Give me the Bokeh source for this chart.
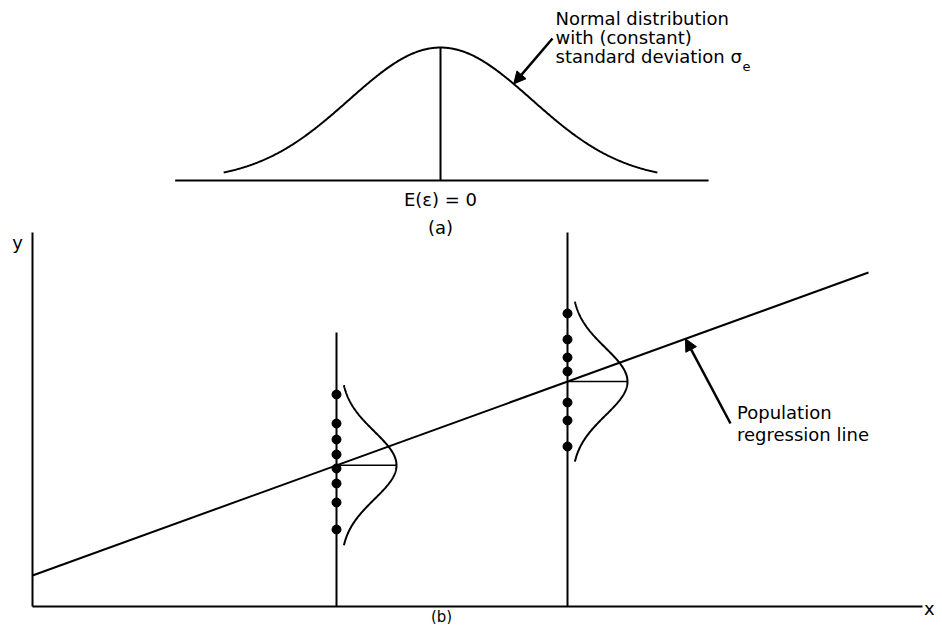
import numpy as np
from bokeh.plotting import figure
from bokeh.models import Range1d, Arrow, NormalHead
from bokeh.core.properties import value
from bokeh.embed import file_html
from bokeh.resources import INLINE

# ---------------- panel (a): distribution of the error term ----------------
err_mean = 0.0
err_sigma = 1.0
err_curve_span = [-2.37, 2.37]        # extent of drawn bell (in sigma units)
err_baseline_span = [-2.9, 2.93]      # horizontal baseline
err_arrow_eps = [1.224, 0.80]         # arrow tail / tip (epsilon)
err_arrow_tail_y = 0.426
err_label = "E(\u03b5) = 0"
err_note = ["Normal distribution", "with (constant)", "standard deviation"]
err_note_sym = "\u03c3"
err_note_sub = "e"

# ---------------- panel (b): population regression ----------------
reg_intercept = 0.31
reg_slope = 0.3624
reg_x_span = [0.0, 8.36]
x_axis_span = [0.0, 8.90]
y_axis_span = [0.0, 3.74]
cond_x = [3.04, 5.35]                 # x values with conditional distributions
cond_stem_top = [2.74, 3.74]
obs_y_1 = [2.12, 1.83, 1.67, 1.52, 1.38, 1.23, 1.04, 0.77]
obs_y_2 = [2.93, 2.67, 2.49, 2.35, 2.04, 1.86, 1.60]
cond_sigma = 0.338
cond_half_span = 0.80
cond_gap = 0.04
cond_height = 0.56
pop_arrow_x = [6.98, 6.53]            # arrow tail / tip (x)
pop_arrow_tail_y = 1.83
pop_note = ["Population", "regression line"]

FONT = value("DejaVu Sans")

p = figure(width=934, height=624,
           x_range=Range1d(-4.809, 5.399), y_range=Range1d(-1.332, 0.540),
           output_backend="svg", toolbar_location=None, min_border=0,
           x_axis_type=None, y_axis_type=None)
p.outline_line_color = None
p.background_fill_color = "white"
p.border_fill_color = "white"
p.extra_x_ranges = {"bx": Range1d(-0.32, 9.02)}
p.extra_y_ranges = {"by": Range1d(-0.18, 6.06)}

def pdf(e, mu=0.0, s=1.0):
    return np.exp(-((e - mu) ** 2) / (2 * s * s)) / (s * np.sqrt(2 * np.pi))

def txt(x, y, t, size="18px", align="left", **kw):
    p.text(x=x, y=y, text=t, text_font=FONT, text_font_size=size,
           text_align=align, text_baseline="middle", text_color="black", **kw)

# ---- panel (a) ----
eps = np.linspace(err_curve_span[0], err_curve_span[1], 400)
p.line(eps, pdf(eps, err_mean, err_sigma), line_color="black", line_width=2)
p.line(err_baseline_span, [0, 0], line_color="black", line_width=2)
p.line([err_mean, err_mean], [0, pdf(err_mean, err_mean, err_sigma)],
       line_color="black", line_width=2)
p.add_layout(Arrow(end=NormalHead(size=12, fill_color="black", line_color="black", line_width=1),
                   x_start=err_arrow_eps[0], y_start=err_arrow_tail_y,
                   x_end=err_arrow_eps[1], y_end=pdf(err_arrow_eps[1], err_mean, err_sigma),
                   line_color="black", line_width=2.5))
txt([err_mean], [-0.0564], [err_label], align="center")
txt([err_mean], [-0.1404], ["(a)"], align="center")
txt([1.257, 1.257, 1.257], [0.4875, 0.4305, 0.372], err_note)
txt([3.169], [0.372], [err_note_sym])
txt([3.301], [0.342], [err_note_sub], size="13px")

# ---- panel (b) ----
B = dict(x_range_name="bx", y_range_name="by")
p.line(x_axis_span, [0, 0], line_color="black", line_width=2, **B)
p.line([0, 0], y_axis_span, line_color="black", line_width=2, **B)
rx = np.array(reg_x_span)
p.line(rx, reg_intercept + reg_slope * rx, line_color="black", line_width=2, **B)

for xc, top, obs in zip(cond_x, cond_stem_top, [obs_y_1, obs_y_2]):
    mu = reg_intercept + reg_slope * xc
    p.line([xc, xc], [0, top], line_color="black", line_width=2, **B)
    yy = np.linspace(mu - cond_half_span, mu + cond_half_span, 300)
    xx = xc + cond_gap + cond_height * np.exp(-((yy - mu) ** 2) / (2 * cond_sigma ** 2))
    p.line(xx, yy, line_color="black", line_width=2, **B)
    p.line([xc, xc + cond_gap + cond_height], [mu, mu], line_color="black", line_width=1.5, **B)
    p.scatter([xc] * len(obs), obs, size=9, marker="circle", fill_color="black",
              line_color="black", **B)

p.add_layout(Arrow(end=NormalHead(size=12, fill_color="black", line_color="black", line_width=1),
                   x_start=pop_arrow_x[0], y_start=pop_arrow_tail_y,
                   x_end=pop_arrow_x[1], y_end=reg_intercept + reg_slope * pop_arrow_x[1],
                   line_color="black", line_width=2.5, **B))
txt([7.045, 7.045], [1.942, 1.722], pop_note, **B)
txt([-0.15], [3.642], ["y"], align="center", **B)
txt([8.915], [-0.018], ["x"], **B)
txt([4.09], [-0.10], ["(b)"], size="15px", align="center", **B)

open("out.html", "w").write(file_html(p, INLINE))
